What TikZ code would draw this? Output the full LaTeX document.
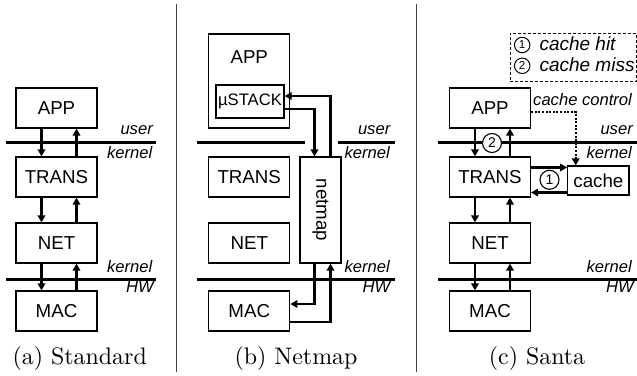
\documentclass[tikz,border=0pt]{standalone}
\usepackage{fontspec}
\newfontfamily\dgarial{Liberation Sans}
\newfontfamily\dgroman{lmroman10-regular}[Extension=.otf]
\usetikzlibrary{arrows.meta}
\newcommand\dgboxfont{\dgarial\fontsize{18.7pt}{22pt}\selectfont}
\newcommand\dgsmallfont{\dgarial\fontsize{16.6pt}{20pt}\selectfont}
\newcommand\dglblfont{\dgarial\itshape\fontsize{16.6pt}{20pt}\selectfont}
\newcommand\dglegfont{\dgarial\itshape\fontsize{19pt}{22pt}\selectfont}
\newcommand\dgnumfont{\dgarial\fontsize{11.6pt}{13pt}\selectfont}
\newcommand\dgbignumfont{\dgarial\fontsize{14pt}{16pt}\selectfont}
\newcommand\dgcapfont{\dgroman\fontsize{23.9pt}{28pt}\selectfont}
\begin{document}
\begin{tikzpicture}[x=1pt,y=-1pt,
  box/.style={draw, line width=1.2pt, minimum width=81pt, minimum height=40pt, inner sep=0pt, font=\dgboxfont, fill=white},
  arr/.style={line width=2.3pt, -{Triangle[length=7pt,width=7.5pt]}},
  dotarr/.style={line width=2pt, dash pattern=on 2pt off 1.6pt, -{Triangle[length=7pt,width=7.5pt]}},
  layer/.style={line width=3pt},
  lbl/.style={font=\dglblfont, inner sep=0pt},
  capt/.style={font=\dgcapfont, inner sep=0pt},
  num/.style={draw, circle, line width=1pt, minimum size=15.5pt, inner sep=0pt, fill=white, font=\dgnumfont},
  bignum/.style={draw, circle, line width=1.1pt, minimum size=19pt, inner sep=0pt, fill=white, font=\dgbignumfont},
]
\useasboundingbox (0,0) rectangle (637,375);

% separators
\draw[line width=0.8pt, black!75] (176.7,4) -- (176.7,372);
\draw[line width=0.8pt, black!75] (416.7,4) -- (416.7,372);

% ---------------- (a) Standard
\draw[layer] (6,142.7) -- (156,142.7);
\draw[layer] (6,279) -- (156,279);
\node[lbl, anchor=base east] (uA) at (153,134.5) {user};
\node[lbl, anchor=base east] (kA) at (152.5,158.5) {kernel};
\node[lbl, anchor=base east] (k2A) at (152.5,272.5) {kernel};
\node[lbl, anchor=base east] (hwA) at (154,292.5) {HW};

\node[box] (appA) at (56.5,108) {APP};
\node[box] (transA) at (56.5,177) {TRANS};
\node[box] (netA) at (56.5,243) {NET};
\node[box] (macA) at (56.5,311) {MAC};
\coordinate (dnA) at (41.5,0);
\coordinate (upA) at (76.5,0);
\draw[arr] (appA.south -| dnA) -- (transA.north -| dnA);
\draw[arr] (transA.north -| upA) -- (appA.south -| upA);
\draw[arr] (transA.south -| dnA) -- (netA.north -| dnA);
\draw[arr] (netA.north -| upA) -- (transA.south -| upA);
\draw[arr] (netA.south -| dnA) -- (macA.north -| dnA);
\draw[arr] (macA.north -| upA) -- (netA.south -| upA);
\node[capt, anchor=base] (capA) at (79.7,364) {(a) Standard};

% ---------------- (b) Netmap
\draw[layer] (197,142.7) -- (305,142.7);
\draw[layer] (338,142.7) -- (395,142.7);
\draw[layer] (197,279) -- (395,279);
\node[lbl, anchor=base east] (uB) at (390.5,134.5) {user};
\node[lbl, anchor=base east] (kB) at (390,158.5) {kernel};
\node[lbl, anchor=base east] (k2B) at (390,272.5) {kernel};
\node[lbl, anchor=base east] (hwB) at (390.5,292.5) {HW};

\node[box, minimum height=94pt] (appB) at (249.25,81) {};
\node[font=\dgboxfont, inner sep=0pt] (appBt) at (249.25,57) {APP};
\node[box, minimum width=68pt, minimum height=33pt, font=\dgsmallfont] (ustack) at (250,101.5) {µSTACK};
\node[box] (transB) at (249.25,177) {TRANS};
\node[box] (netB) at (249.25,243) {NET};
\node[box] (macB) at (249.25,311) {MAC};
\node[box, minimum width=41pt, minimum height=106pt] (netmap) at (320.5,210) {};
\node[font=\dgboxfont, inner sep=0pt, rotate=-90] (netmapT) at (320.5,210) {netmap};
\coordinate (b1) at (314.5,109);
\coordinate (b2) at (330.5,96);
\coordinate (b3) at (314.5,304);
\coordinate (b4) at (330.5,321.7);
\draw[arr] (ustack.east |- b1) -| (netmap.north -| b1);
\draw[arr] (netmap.north -| b2) |- (ustack.east |- b2);
\draw[arr] (netmap.south -| b3) |- (macB.east |- b3);
\draw[arr] (macB.east |- b4) -| (netmap.south -| b4);
\node[capt, anchor=base] (capB) at (296,364) {(b) Netmap};

% ---------------- (c) Santa
\draw[layer] (438,142.7) -- (637,142.7);
\draw[layer] (438,279) -- (637,279);
\node[lbl, anchor=base east] (uC) at (633,134.5) {user};
\node[lbl, anchor=base east] (kC) at (632,158.5) {kernel};
\node[lbl, anchor=base east] (k2C) at (632,272.5) {kernel};
\node[lbl, anchor=base east] (hwC) at (634,292.5) {HW};

\node[box] (appC) at (490,108) {APP};
\node[box] (transC) at (490,177) {TRANS};
\node[box] (netC) at (490,243) {NET};
\node[box] (macC) at (490,311) {MAC};
\node[box, minimum width=61.3pt, minimum height=29pt] (cache) at (598.35,180.5) {cache};
\coordinate (dnC) at (475,0);
\coordinate (upC) at (510,0);
\draw[arr] (appC.south -| dnC) -- (transC.north -| dnC);
\draw[arr] (transC.north -| upC) -- (appC.south -| upC);
\draw[arr] (transC.south -| dnC) -- (netC.north -| dnC);
\draw[arr] (netC.north -| upC) -- (transC.south -| upC);
\draw[arr] (netC.south -| dnC) -- (macC.north -| dnC);
\draw[arr] (macC.north -| upC) -- (netC.south -| upC);
\node[bignum] (n2) at (492,143) {2};

\coordinate (c1) at (0,167.5);
\coordinate (c2) at (0,192.5);
\draw[arr] (transC.east |- c1) -- (cache.west |- c1);
\draw[arr] (cache.west |- c2) -- (transC.east |- c2);
\node[bignum] (n1) at (549.5,179.8) {1};

\coordinate (d1) at (575.7,111.7);
\draw[dotarr] (appC.east |- d1) -| (cache.north -| d1);
\node[lbl, anchor=base west] (cc) at (533,105.5) {cache control};

% legend
\node[draw, line width=0.9pt, dash pattern=on 3pt off 2pt, minimum width=126.4pt, minimum height=48.4pt, inner sep=0pt] (legend) at (573.4,57.5) {};
\node[num] (l1) at (522.2,45) {1};
\node[num] (l2) at (522.2,65.8) {2};
\node[font=\dglegfont, anchor=base west, inner sep=0pt] (l1t) at (539.3,50.7) {cache hit};
\node[font=\dglegfont, anchor=base west, inner sep=0pt] (l2t) at (539.3,71.7) {cache miss};
\node[capt, anchor=base] (capC) at (537,364) {(c) Santa};
\end{tikzpicture}
\end{document}
